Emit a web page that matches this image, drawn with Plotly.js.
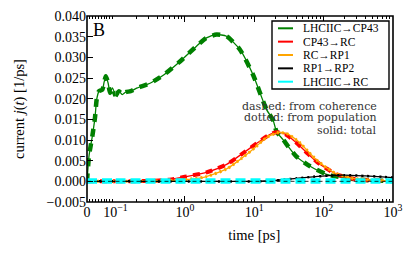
<!DOCTYPE html>
<html><head><meta charset="utf-8">
<script src="https://cdn.plot.ly/plotly-3.0.1.min.js"></script>
<style>html,body{margin:0;padding:0;background:#fff}</style>
</head><body><div id="chart" style="width:416px;height:256px"></div>
<script>
// ---- data ----
const seriesNames = ['LHCIIC\u2192CP43', 'CP43\u2192RC', 'RC\u2192RP1', 'RP1\u2192RP2', 'LHCIIC\u2192RC'];
const seriesColors = ['#008000', '#ff0000', '#ffa500', '#000000', '#00ffff'];

const tGreen = [0, 0.007, 0.0186, 0.028, 0.034, 0.042, 0.054, 0.060, 0.066, 0.074, 0.081, 0.089, 0.1, 0.112, 0.125, 0.14, 0.166, 0.206, 0.32, 0.5, 0.85, 1.47, 2.05, 2.86, 3.98, 6.2, 9.6, 15, 18.7, 21, 26, 40, 63, 110, 150, 250, 500, 1000];
const jGreen = [0, 0.0061, 0.0109, 0.0154, 0.0198, 0.0218, 0.0222, 0.0240, 0.0254, 0.0238, 0.0214, 0.0226, 0.0206, 0.0218, 0.0210, 0.0216, 0.0218, 0.0226, 0.0238, 0.0258, 0.0290, 0.0327, 0.0347, 0.0355, 0.0351, 0.0319, 0.0258, 0.0174, 0.0148, 0.0120, 0.0101, 0.0061, 0.0037, 0.0017, 0.0012, 0.0006, 0.0002, 0.0001];

const tRed = [0, 0.1, 0.3, 0.6, 1.0, 2.0, 4.0, 7.0, 12, 17, 21, 28, 40, 60, 80, 110, 150, 250, 500, 1000];
const jRed = [0, 0, 0.0001, 0.0004, 0.0011, 0.0021, 0.0041, 0.0069, 0.0097, 0.0114, 0.0119, 0.0114, 0.0094, 0.0066, 0.0047, 0.0031, 0.0018, 0.0007, 0.0002, 0.0001];

const tOrange = [0, 0.1, 0.5, 1.0, 2.0, 4.0, 6.5, 10, 15, 22, 30, 45, 60, 80, 110, 150, 250, 500, 1000];
const jOrange = [0, 0, 0.0001, 0.0004, 0.0011, 0.0030, 0.0055, 0.0080, 0.0106, 0.0118, 0.0115, 0.0094, 0.0072, 0.0051, 0.0033, 0.0019, 0.0008, 0.0003, 0.0001];

const tBlack = [0, 0.1, 10, 20, 40, 70, 120, 200, 400, 700, 1000];
const jBlack = [0, 0, 0, 0.0002, 0.0007, 0.0011, 0.0014, 0.0015, 0.0013, 0.0011, 0.0009];
const jBlackCoh = [0, 0, 0, 0, 0, 0, 0, 0, 0, 0, 0];

const tCyan = [0, 0.1, 1, 10, 100, 1000];
const jCyan = [0.0001, 0.0001, 0.0001, 0.0001, 0.0001, 0.0001];

const xLinTicks = [0];
const xLinTickText = ['0'];
const xLogTicks = [0.1, 1, 10, 100, 1000];
const xLogTickText = ['10<sup>\u22121</sup>', '10<sup>0</sup>', '10<sup>1</sup>', '10<sup>2</sup>', '10<sup>3</sup>'];
const annoLines = ['dashed: from coherence', 'dotted: from population', 'solid: total'];
const yTitle = 'current <i>j</i>(<i>t</i>) [1/ps]';
const xTitle = 'time [ps]';

// ---- layout geometry (pixels) ----
const W = 416, H = 256;
const L = 87, R = 393, T = 16, B = 202;
const BREAK = 115.5; // pixel where linear part (0..0.1) meets log part
const dBreak = (BREAK - L) / (R - L);
const px = x => (x - L) / (R - L);
const py = y => (B - y) / (B - T);

const FONT = "Liberation Serif, serif";
const FONT_WIDE = "DejaVu Serif, serif";
const traces = [];

function addLine(t, v, line, opts) {
  const linX = [], linY = [], logX = [], logY = [];
  for (let i = 0; i < t.length; i++) {
    if (t[i] <= 0.1) { linX.push(t[i]); linY.push(v[i]); }
    if (t[i] >= 0.1) { logX.push(t[i]); logY.push(v[i]); }
  }
  const base = Object.assign({type: 'scatter', mode: 'lines', line: line, hoverinfo: 'skip', showlegend: false}, opts || {});
  if (linX.length > 1) traces.push(Object.assign({}, base, {x: linX, y: linY, xaxis: 'x', yaxis: 'y'}));
  traces.push(Object.assign({}, base, {x: logX, y: logY, xaxis: 'x2', yaxis: 'y'}));
}

// green
addLine(tGreen, jGreen, {color: seriesColors[0], width: 1.3, shape: 'spline', smoothing: 0.6});
addLine(tGreen, jGreen, {color: seriesColors[0], width: 4.5, dash: '8px,7px', shape: 'spline', smoothing: 0.6});
// red
addLine(tRed, jRed, {color: seriesColors[1], width: 1.3, shape: 'spline', smoothing: 0.6});
addLine(tRed, jRed, {color: seriesColors[1], width: 4, dash: '7px,6px', shape: 'spline', smoothing: 0.6});
// orange
addLine(tOrange, jOrange, {color: seriesColors[2], width: 1.3, shape: 'spline', smoothing: 0.6});
addLine(tOrange, jOrange, {color: seriesColors[2], width: 3, dash: '2px,3px', shape: 'spline', smoothing: 0.6});
// black
addLine(tBlack, jBlack, {color: seriesColors[3], width: 1.3, shape: 'spline', smoothing: 0.6});
addLine(tBlack, jBlack, {color: seriesColors[3], width: 2.5, dash: '2px,4px', shape: 'spline', smoothing: 0.6});
// cyan
addLine(tCyan, jCyan, {color: seriesColors[4], width: 5.5, dash: '10px,5px'});
addLine(tBlack, jBlackCoh, {color: seriesColors[3], width: 0.8, dash: '4px,3px'});

// log minor ticks
const minorLog = [];
for (let d = -1; d < 3; d++) for (let k = 2; k <= 9; k++) minorLog.push(k * Math.pow(10, d));

const tickFont = {family: FONT, size: 14, color: '#000'};

const shapes = [
  {type: 'rect', xref: 'paper', yref: 'paper', x0: 0, x1: 1, y0: 0, y1: 1, line: {color: '#000', width: 1.6}},
  // legend box
  {type: 'rect', xref: 'paper', yref: 'paper', x0: px(272), x1: px(389), y0: py(89), y1: py(21), line: {color: '#000', width: 1.4}, fillcolor: '#fff'}
];
const annotations = [
  {xref: 'paper', yref: 'paper', x: px(91), y: py(30), text: 'B', showarrow: false, xanchor: 'left', yanchor: 'middle', font: {family: FONT, size: 18, color: '#000'}},
  {xref: 'paper', yref: 'paper', x: px(19), y: 0.5, text: yTitle, textangle: -90, showarrow: false, xanchor: 'center', yanchor: 'middle', font: {family: FONT, size: 14.5, color: '#000'}}
];
const legendRow0 = 28.3, legendGap = 13.35;
seriesNames.forEach((n, i) => {
  const yy = py(legendRow0 + i * legendGap);
  shapes.push({type: 'line', xref: 'paper', yref: 'paper', x0: px(278), x1: px(293), y0: yy, y1: yy, line: {color: seriesColors[i], width: 2}});
  annotations.push({xref: 'paper', yref: 'paper', x: px(301), y: yy, text: n, showarrow: false, xanchor: 'left', yanchor: 'middle', font: {family: FONT, size: 11.5, color: '#000'}});
});
const annoY = [106, 118, 130];
annoLines.forEach((s, i) => {
  annotations.push({xref: 'paper', yref: 'paper', x: px(379), y: py(annoY[i]), text: s, showarrow: false, xanchor: 'right', yanchor: 'middle', font: {family: FONT_WIDE, size: 11, color: '#333'}});
});

const layout = {
  width: W, height: H,
  margin: {l: L, r: W - R, t: T, b: H - B, pad: 0},
  paper_bgcolor: '#fff', plot_bgcolor: '#fff',
  showlegend: false,
  font: {family: FONT, color: '#000'},
  xaxis: {
    domain: [0, dBreak], range: [0, 0.1], anchor: 'y', type: 'linear',
    tickmode: 'array', tickvals: xLinTicks, ticktext: xLinTickText,
    ticks: 'inside', ticklen: 6, tickcolor: '#000', tickwidth: 1, mirror: 'ticks',
    showgrid: false, zeroline: false, showline: false, tickfont: tickFont,
    minor: {ticks: 'inside', ticklen: 3, tickcolor: '#000', tickmode: 'linear', tick0: 0, dtick: 0.01, showgrid: false}
  },
  xaxis2: {
    domain: [dBreak, 1], type: 'log', range: [-1, 3], anchor: 'y',
    tickmode: 'array', tickvals: xLogTicks, ticktext: xLogTickText,
    ticks: 'inside', ticklen: 6, tickcolor: '#000', tickwidth: 1, mirror: 'ticks',
    showgrid: false, zeroline: false, showline: false, tickfont: tickFont,
    minor: {ticks: 'inside', ticklen: 3, tickcolor: '#000', tickmode: 'array', tickvals: minorLog, showgrid: false},
    title: {text: xTitle, font: {family: FONT, size: 14.5, color: '#000'}, standoff: 10}
  },
  yaxis: {
    domain: [0, 1], range: [-0.005, 0.040], anchor: 'x',
    tickmode: 'linear', tick0: 0, dtick: 0.005, tickformat: '.3f',
    ticks: 'inside', ticklen: 6, tickcolor: '#000',
    showgrid: false, zeroline: false, showline: false, tickfont: tickFont
  },
  yaxis3: {
    overlaying: 'y', side: 'right', anchor: 'x2', range: [-0.005, 0.040],
    tickmode: 'linear', tick0: 0, dtick: 0.005, ticks: 'inside', ticklen: 6, tickcolor: '#000',
    showticklabels: false, showgrid: false, zeroline: false, showline: false
  },
  shapes: shapes,
  annotations: annotations
};

Plotly.newPlot('chart', traces, layout, {staticPlot: true, displayModeBar: false});
</script>
</body></html>
